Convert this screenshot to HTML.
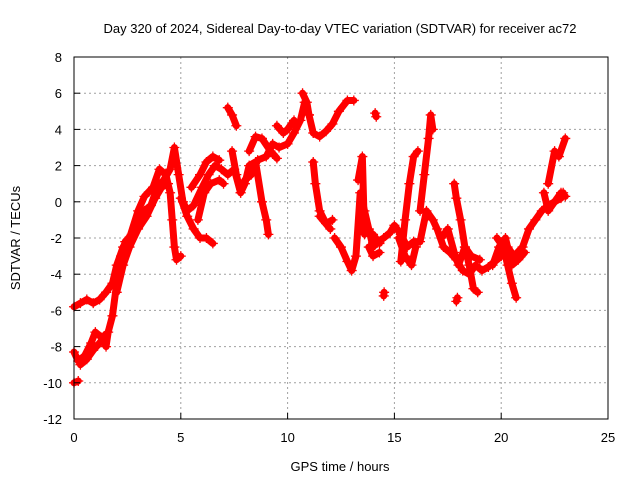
<!DOCTYPE html>
<html><head><meta charset="utf-8"><style>
body{margin:0;background:#fff}
svg text{font-family:"Liberation Sans",sans-serif;font-size:13px;fill:#000}
</style></head><body>
<svg id="chart" width="640" height="480" xmlns="http://www.w3.org/2000/svg">
<rect width="640" height="480" fill="#fff"/>
<text x="340" y="33" text-anchor="middle">Day 320 of 2024, Sidereal Day-to-day VTEC variation (SDTVAR) for receiver ac72</text>
<text x="340" y="471" text-anchor="middle">GPS time / hours</text>
<text transform="translate(20,238) rotate(-90)" text-anchor="middle">SDTVAR / TECUs</text>
<g id="grid"></g>
<g id="marks"></g>
<rect x="74" y="57" width="534" height="362" fill="none" stroke="#000" stroke-width="1"/>
<g id="ticks"></g>
</svg>
<script>
const xTicks=[0,5,10,15,20,25];
const yTicks=[-12,-10,-8,-6,-4,-2,0,2,4,6,8];
const track1=[[0,-8.3],[0.2,-8.8],[0.5,-8.5],[0.8,-7.8],[1.0,-7.2],[1.3,-7.5],[1.5,-8.0],[1.6,-7.2],[1.8,-6.3],[2.0,-4.5],[2.2,-3],[2.4,-2.2],[2.7,-1.8],[3.0,-1.2],[3.3,-0.5],[3.6,-0.2],[3.9,0.8],[4.2,1.2],[4.5,1.8],[4.7,3.0],[4.9,1.5],[5.1,0],[5.3,-0.5],[5.6,-0.2],[6.0,0.8],[6.3,1.5],[6.6,2.0],[6.9,1.8],[7.2,1.5],[7.5,1.8],[7.8,0.5],[8.0,1.2],[8.3,1.5],[8.6,2.3],[9.0,2.5],[9.3,3.2],[9.6,3.0],[10.0,3.2],[10.3,3.8],[10.6,4.5],[10.8,5.5],[11.0,4.8]];
const track2=[[0,-5.8],[0.3,-5.6],[0.6,-5.4],[0.9,-5.6],[1.2,-5.4],[1.5,-5],[1.8,-4.5],[2.0,-3.5],[2.3,-2.5],[2.6,-2],[3.0,-0.5],[3.3,0.3],[3.7,0.8],[4.0,1.8],[4.3,1.5],[4.5,0.5],[4.6,-1],[4.7,-2.5],[4.8,-3.2],[5.0,-3.0]];
const track3=[[0,-10],[0.2,-9.9]];
const track4=[[5.0,0.2],[5.3,-0.8],[5.6,-1.5],[5.9,-2],[6.2,-2.0],[6.5,-2.3]];
const track5=[[5.5,0.8],[5.9,1.5],[6.2,2.2],[6.5,2.5],[6.8,2.3]];
const track6=[[7.2,5.2],[7.4,4.8],[7.6,4.2]];
const track7=[[7.4,2.8],[7.6,1.5],[7.8,0.5],[8.0,1.0],[8.2,2.0],[8.5,2.2],[8.8,0],[9.0,-1.0],[9.1,-1.8]];
const track8=[[8.2,2.8],[8.5,3.6],[8.8,3.5],[9.2,2.8],[9.5,2.4]];
const track9=[[9.5,4.2],[9.8,3.8],[10.0,4.0],[10.3,4.5]];
const track10=[[10.7,6.0],[10.9,5.5],[11.0,4.8],[11.2,3.8],[11.5,3.6],[11.8,3.9],[12.1,4.3],[12.4,5],[12.8,5.6],[13.1,5.6]];
const track11=[[11.2,2.2],[11.3,1.0],[11.5,-0.5],[11.8,-1.2],[12.1,-1.0]];
const track12=[[12.2,-2.0],[12.5,-2.5],[12.8,-3.3],[13.0,-3.8],[13.2,-3.0],[13.4,0.5],[13.6,-0.5],[13.8,-1.5],[14.0,-2.5],[14.2,-2.2],[14.5,-2.0],[14.8,-1.7],[15.0,-1.3],[15.3,-1.8],[15.6,-2.5],[15.9,-2.2],[16.2,-2.2],[16.5,-0.5],[16.8,-1.0],[17.0,-1.5],[17.3,-2.5],[17.6,-2.8],[17.9,-3.2],[18.2,-3.8],[18.5,-4.0],[18.8,-3.5],[19.1,-3.8],[19.4,-3.6],[19.7,-3.3],[20.0,-3.0],[20.3,-2.5],[20.6,-3.0],[21.0,-2.5],[21.3,-1.5],[21.6,-1.0],[21.9,-0.5],[22.2,-0.2],[22.5,0],[22.8,0.2],[22.9,0.5]];
const track13=[[13.3,1.2],[13.5,2.5],[13.6,-1.8]];
const track14=[[14.1,4.9],[14.15,4.7]];
const track15=[[15.3,-3.3],[15.5,-1.0],[15.7,1.0],[15.9,2.5],[16.1,2.8]];
const track16=[[16.2,-0.5],[16.4,1.5],[16.6,3.5],[16.7,4.8],[16.8,4.0]];
const track17=[[17.8,1.0],[17.9,0.2],[18.1,-1.0],[18.3,-2.5],[18.5,-3.5],[18.7,-4.8],[18.9,-5.0]];
const track18=[[19.8,-2.0],[20.1,-2.5],[20.3,-3.5],[20.5,-4.5],[20.7,-5.3]];
const track19=[[22.0,0.5],[22.2,-0.5],[22.5,0],[22.8,0.5],[23.0,0.3]];
const track20=[[22.2,1.0],[22.5,2.8],[22.7,2.5],[23.0,3.5]];
const track21=[[11.5,-0.8],[12.0,-1.5]];
const track22=[[14.0,-1.8],[14.3,-2.3]];
const track23=[[14.5,-5.2],[14.52,-5.0]];
const track24=[[17.9,-5.5],[17.95,-5.3]];
const track25=[[2.0,-5],[2.3,-3.5],[2.6,-2.5],[3.0,-1.5],[3.4,-0.8],[3.8,0.2],[4.1,0.8],[4.4,1.0]];
const track26=[[0.3,-9],[0.6,-8.7],[0.9,-8.2],[1.2,-7.8],[1.5,-7.3]];
const track27=[[5.8,-1.0],[6.1,0.5],[6.4,1.0],[6.8,1.2],[7.0,1.0]];
const track28=[[13.8,-2.5],[14.0,-3.0],[14.3,-2.8]];
const track29=[[15.2,-2.0],[15.5,-3.0],[15.8,-3.5],[16.0,-2.5]];
const track30=[[17.2,-2.0],[17.5,-1.5],[17.8,-2.8],[18.0,-3.5],[18.3,-2.5],[18.6,-3.0],[19.0,-3.2]];
const track31=[[19.6,-3.5],[19.9,-2.5],[20.2,-2.0],[20.5,-3.5],[20.8,-3.2],[21.1,-2.8]];
const tracks=[track1,track2,track3,track4,track5,track6,track7,track8,track9,track10,track11,track12,track13,track14,track15,track16,track17,track18,track19,track20,track21,track22,track23,track24,track25,track26,track27,track28,track29,track30,track31];
const NS="http://www.w3.org/2000/svg";
const X=t=>74+t*(534/25);
const Y=v=>419-(v+12)*(362/20);
const grid=document.getElementById('grid'),ticks=document.getElementById('ticks'),marks=document.getElementById('marks');
function mk(tag,attrs,parent){const e=document.createElementNS(NS,tag);for(const k in attrs)e.setAttribute(k,attrs[k]);parent.appendChild(e);return e;}
xTicks.forEach(t=>{
  const l=mk('line',{x1:X(t),x2:X(t),y1:57,y2:419,stroke:'#a0a0a0','stroke-dasharray':'2,3'},grid);
  
  
  const tx=mk('text',{x:X(t),y:442,'text-anchor':'middle'},ticks);tx.textContent=t;
  
  
  mk('line',{x1:X(t),x2:X(t),y1:419,y2:413,stroke:'#000'},ticks);
});
yTicks.forEach(v=>{
  const l=mk('line',{x1:74,x2:608,y1:Y(v),y2:Y(v),stroke:'#a0a0a0','stroke-dasharray':'2,3'},grid);
  
  
  const tx=mk('text',{x:62,y:Y(v)+5,'text-anchor':'end'},ticks);tx.textContent=v;
  
  
  mk('line',{x1:74,x2:80,y1:Y(v),y2:Y(v),stroke:'#000'},ticks);
});
tracks.forEach(tr=>{
  const p=mk('polyline',{points:tr.map(d=>X(d[0])+','+Y(d[1])).join(' '),fill:'none',stroke:'#f00','stroke-width':7,'stroke-linejoin':'round','stroke-linecap':'round'},marks);
  
  
  tr.forEach(d=>{
    const x=X(d[0]),y=Y(d[1]);
    const m=mk('path',{d:`M${x-5},${y}h10M${x},${y-5}v10`,stroke:'#f00','stroke-width':1.3},marks);
    
    
  });
});
</script>
</body></html>
